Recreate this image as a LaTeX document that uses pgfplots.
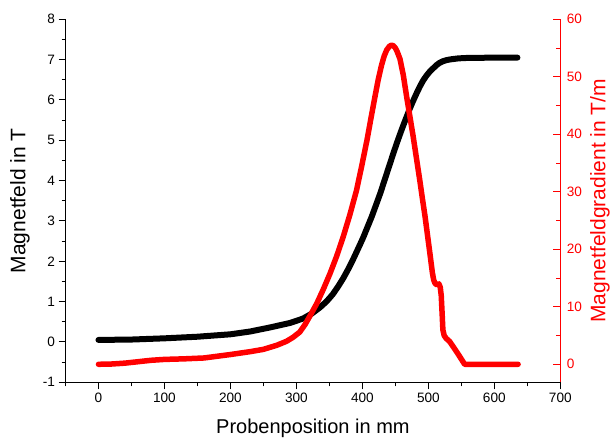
\documentclass[border=0pt]{standalone}
\usepackage{pgfplots}
\pgfplotsset{compat=1.18}
\usepackage{fontspec}
\setmainfont{Liberation Sans}

\pgfplotstableread{
x y
0 0.05
50 0.06
100 0.09
150 0.13
200 0.19
230 0.26
260 0.36
290 0.47
310 0.58
323 0.70
336 0.86
346 1.01
355 1.18
363 1.37
371 1.58
379 1.82
386 2.05
394 2.33
401 2.58
408 2.86
414 3.10
421 3.41
427 3.68
432 3.93
437 4.18
442 4.43
447 4.68
452 4.92
457 5.15
462 5.37
467 5.58
472 5.79
477 5.98
482 6.16
487 6.33
492 6.48
497 6.60
502 6.70
507 6.78
512 6.86
517 6.92
522 6.96
528 6.99
535 7.01
545 7.03
555 7.04
600 7.05
635 7.05
}\fieldtab

\pgfplotstableread{
x y
0 0.0
20 0.05
40 0.2
60 0.45
80 0.7
100 0.85
130 0.95
160 1.1
180 1.4
200 1.7
230 2.2
250 2.6
270 3.3
285 4.0
295 4.7
305 5.6
313 6.9
321 8.5
331 10.6
341 13.1
351 15.8
361 18.8
371 22.2
381 26.0
391 30.2
399 34.5
407 39.0
413 42.8
419 46.5
424 49.5
429 52.0
433 53.6
437 54.7
441 55.3
444 55.5
447 55.4
450 55.0
453 54.3
457 53.1
462 50.3
467 46.6
472 43.1
477 39.6
482 35.8
487 32.0
491 28.8
495 25.7
499 22.2
503 18.7
506 16.0
508 14.7
510 14.1
513 13.8
516 14.0
518 13.4
519.5 12.0
521 8.5
522 6.0
524 5.0
527 4.5
532 4.0
538 3.0
545 1.8
550 0.9
555 0.0
570 0.0
600 0.0
636 0.0
}\gradtab

\begin{document}
\begin{tikzpicture}
\begin{axis}[
  name=main,
  scale only axis, width=494.8pt, height=363pt,
  xmin=-50, xmax=700, ymin=-1, ymax=8,
  axis x line*=bottom, axis y line*=left,
  axis line style={line width=1.1pt},
  xtick={0,100,...,700}, minor xtick={-50,50,150,...,650},
  ytick={-1,0,...,8}, minor ytick={-0.5,0.5,...,7.5},
  tick align=outside, major tick length=7pt, minor tick length=4pt,
  every tick/.style={black, line width=1pt},
  /pgf/number format/assume math mode=true,
  tick label style={font=\fontsize{13.6}{16}\selectfont},
  every axis x label/.style={at={(axis description cs:0.5,0)}, anchor=center, yshift=-46pt},
  every axis y label/.style={at={(axis description cs:0,0.5)}, anchor=center, xshift=-45.5pt, rotate=90},
  xlabel style={font=\fontsize{20}{24}\selectfont},
  ylabel style={font=\fontsize{21}{25}\selectfont},
  xlabel={Probenposition in mm},
  ylabel={Magnetfeld in T},
  clip=false,
]
\addplot[black, line width=6pt, line cap=round, line join=round] table[x=x,y=y] {\fieldtab};
\end{axis}
\begin{axis}[
  scale only axis, width=494.8pt, height=363pt,
  xmin=-50, xmax=700, ymin=-3.13, ymax=60,
  axis x line=none, axis y line*=right,
  y axis line style={red, line width=1.1pt},
  ytick={0,10,...,60}, minor ytick={5,15,...,55},
  tick align=inside, major tick length=7pt, minor tick length=4pt,
  every tick/.style={red, line width=1pt},
  /pgf/number format/assume math mode=true,
  yticklabel style={font=\fontsize{13.6}{16}\selectfont, red, xshift=3pt},
  every axis y label/.style={at={(axis description cs:1,0.5)}, anchor=center, xshift=39.7pt, rotate=90},
  ylabel style={font=\fontsize{21}{25}\selectfont, red},
  ylabel={Magnetfeldgradient in T/m},
  clip=false,
]
\addplot[red, line width=5.5pt, line cap=round, line join=round] table[x=x,y=y] {\gradtab};
\end{axis}
\pgfresetboundingbox
\path[use as bounding box] (main.south west) ++(-65.5pt,-56.7pt) rectangle ([xshift=50.7pt,yshift=19.3pt]main.north east);
\end{tikzpicture}
\end{document}
